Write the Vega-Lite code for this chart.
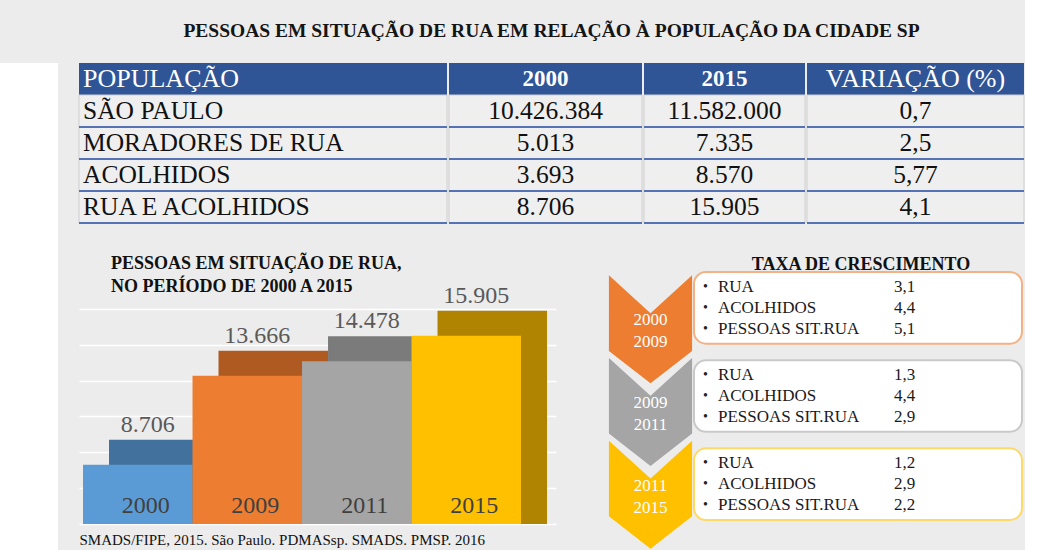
{
  "$schema": "https://vega.github.io/schema/vega-lite/v6.json",
  "background": "#ececec",
  "padding": {"left": 0, "top": 20, "right": 0, "bottom": 0},
  "config": {
    "font": "Liberation Serif",
    "view": {"stroke": null},
    "locale": {"number": {"decimal": ",", "thousands": ".", "grouping": [3], "currency": ["R$", ""]}}
  },
  "datasets": {
    "tabela": [
      {"linha": "POPULAÇÃO", "coluna": "POPULAÇÃO", "texto": "POPULAÇÃO"},
      {"linha": "POPULAÇÃO", "coluna": "2000", "texto": "2000"},
      {"linha": "POPULAÇÃO", "coluna": "2015", "texto": "2015"},
      {"linha": "POPULAÇÃO", "coluna": "VARIAÇÃO (%)", "texto": "VARIAÇÃO (%)"},
      {"linha": "SÃO PAULO", "coluna": "POPULAÇÃO", "texto": "SÃO PAULO"},
      {"linha": "SÃO PAULO", "coluna": "2000", "texto": "10.426.384"},
      {"linha": "SÃO PAULO", "coluna": "2015", "texto": "11.582.000"},
      {"linha": "SÃO PAULO", "coluna": "VARIAÇÃO (%)", "texto": "0,7"},
      {"linha": "MORADORES DE RUA", "coluna": "POPULAÇÃO", "texto": "MORADORES DE RUA"},
      {"linha": "MORADORES DE RUA", "coluna": "2000", "texto": "5.013"},
      {"linha": "MORADORES DE RUA", "coluna": "2015", "texto": "7.335"},
      {"linha": "MORADORES DE RUA", "coluna": "VARIAÇÃO (%)", "texto": "2,5"},
      {"linha": "ACOLHIDOS", "coluna": "POPULAÇÃO", "texto": "ACOLHIDOS"},
      {"linha": "ACOLHIDOS", "coluna": "2000", "texto": "3.693"},
      {"linha": "ACOLHIDOS", "coluna": "2015", "texto": "8.570"},
      {"linha": "ACOLHIDOS", "coluna": "VARIAÇÃO (%)", "texto": "5,77"},
      {"linha": "RUA E ACOLHIDOS", "coluna": "POPULAÇÃO", "texto": "RUA E ACOLHIDOS"},
      {"linha": "RUA E ACOLHIDOS", "coluna": "2000", "texto": "8.706"},
      {"linha": "RUA E ACOLHIDOS", "coluna": "2015", "texto": "15.905"},
      {"linha": "RUA E ACOLHIDOS", "coluna": "VARIAÇÃO (%)", "texto": "4,1"}
    ],
    "barras": [
      {"ano": "2000", "valor": 8706},
      {"ano": "2009", "valor": 13666},
      {"ano": "2011", "valor": 14478},
      {"ano": "2015", "valor": 15905}
    ],
    "periodos": [
      {"periodo": "2000-2009", "inicio": "2000", "fim": "2009"},
      {"periodo": "2009-2011", "inicio": "2009", "fim": "2011"},
      {"periodo": "2011-2015", "inicio": "2011", "fim": "2015"}
    ],
    "itens": [
      {"periodo": "2000-2009", "item": "RUA", "taxa": 3.1},
      {"periodo": "2000-2009", "item": "ACOLHIDOS", "taxa": 4.4},
      {"periodo": "2000-2009", "item": "PESSOAS SIT.RUA", "taxa": 5.1},
      {"periodo": "2009-2011", "item": "RUA", "taxa": 1.3},
      {"periodo": "2009-2011", "item": "ACOLHIDOS", "taxa": 4.4},
      {"periodo": "2009-2011", "item": "PESSOAS SIT.RUA", "taxa": 2.9},
      {"periodo": "2011-2015", "item": "RUA", "taxa": 1.2},
      {"periodo": "2011-2015", "item": "ACOLHIDOS", "taxa": 2.9},
      {"periodo": "2011-2015", "item": "PESSOAS SIT.RUA", "taxa": 2.2}
    ]
  },
  "spacing": 20,
  "hconcat": [
    {
      "width": 58,
      "height": 530,
      "view": {"fill": "white", "stroke": null},
      "data": {"values": []},
      "mark": "rect"
    },
    {
      "title": {"text": "PESSOAS EM SITUAÇÃO DE RUA EM RELAÇÃO À POPULAÇÃO DA CIDADE SP", "fontSize": 19.5, "fontWeight": "bold", "anchor": "middle", "offset": 22, "color": "#151515"},
      "spacing": 31,
      "vconcat": [
        {
          "spacing": 0,
          "hconcat": [
            {
              "width": 368, "height": 160,
              "data": {"name": "tabela"},
              "transform": [{"filter": "datum.coluna === 'POPULAÇÃO'"}],
              "encoding": {"y": {"field": "linha", "type": "nominal", "sort": null, "axis": null, "scale": {"domain": ["POPULAÇÃO", "SÃO PAULO", "MORADORES DE RUA", "ACOLHIDOS", "RUA E ACOLHIDOS"], "paddingInner": 0, "paddingOuter": 0}}},
              "layer": [
                {"transform": [{"filter": "datum.linha === 'POPULAÇÃO'"}], "mark": {"type": "rect", "color": "#2f5597", "height": {"band": 1}}},
                {"transform": [{"filter": "datum.linha !== 'POPULAÇÃO'"}], "mark": {"type": "rect", "fill": "#efefef", "stroke": "#cfcfcf", "strokeWidth": 1, "height": {"band": 1}}},
                {"transform": [{"filter": "datum.linha !== 'POPULAÇÃO'"}], "mark": {"type": "rule", "color": "#5472b4", "strokeWidth": 2}, "encoding": {"y": {"field": "linha", "type": "nominal", "sort": null, "bandPosition": 1}}},
                {"transform": [{"filter": "datum.linha === 'POPULAÇÃO'"}], "mark": {"type": "text", "color": "white", "fontSize": 26, "align": "left", "dx": -180}, "encoding": {"text": {"field": "texto"}}},
                {"transform": [{"filter": "datum.linha !== 'POPULAÇÃO'"}], "mark": {"type": "text", "color": "#111111", "fontSize": 25.5, "align": "left", "dx": -180}, "encoding": {"text": {"field": "texto"}}}
              ]
            },
            {
              "width": 193, "height": 160,
              "data": {"name": "tabela"},
              "transform": [{"filter": "datum.coluna === '2000'"}],
              "encoding": {"y": {"field": "linha", "type": "nominal", "sort": null, "axis": null, "scale": {"domain": ["POPULAÇÃO", "SÃO PAULO", "MORADORES DE RUA", "ACOLHIDOS", "RUA E ACOLHIDOS"], "paddingInner": 0, "paddingOuter": 0}}},
              "layer": [
                {"transform": [{"filter": "datum.linha === 'POPULAÇÃO'"}], "mark": {"type": "rect", "color": "#2f5597", "height": {"band": 1}}},
                {"transform": [{"filter": "datum.linha !== 'POPULAÇÃO'"}], "mark": {"type": "rect", "fill": "#efefef", "stroke": "#cfcfcf", "strokeWidth": 1, "height": {"band": 1}}},
                {"transform": [{"filter": "datum.linha !== 'POPULAÇÃO'"}], "mark": {"type": "rule", "color": "#5472b4", "strokeWidth": 2}, "encoding": {"y": {"field": "linha", "type": "nominal", "sort": null, "bandPosition": 1}}},
                {"transform": [{"filter": "datum.linha === 'POPULAÇÃO'"}], "mark": {"type": "text", "color": "white", "fontSize": 23, "fontWeight": "bold"}, "encoding": {"text": {"field": "texto"}}},
                {"transform": [{"filter": "datum.linha !== 'POPULAÇÃO'"}], "mark": {"type": "text", "color": "#111111", "fontSize": 25.5}, "encoding": {"text": {"field": "texto"}}}
              ]
            },
            {
              "width": 161, "height": 160,
              "data": {"name": "tabela"},
              "transform": [{"filter": "datum.coluna === '2015'"}],
              "encoding": {"y": {"field": "linha", "type": "nominal", "sort": null, "axis": null, "scale": {"domain": ["POPULAÇÃO", "SÃO PAULO", "MORADORES DE RUA", "ACOLHIDOS", "RUA E ACOLHIDOS"], "paddingInner": 0, "paddingOuter": 0}}},
              "layer": [
                {"transform": [{"filter": "datum.linha === 'POPULAÇÃO'"}], "mark": {"type": "rect", "color": "#2f5597", "height": {"band": 1}}},
                {"transform": [{"filter": "datum.linha !== 'POPULAÇÃO'"}], "mark": {"type": "rect", "fill": "#efefef", "stroke": "#cfcfcf", "strokeWidth": 1, "height": {"band": 1}}},
                {"transform": [{"filter": "datum.linha !== 'POPULAÇÃO'"}], "mark": {"type": "rule", "color": "#5472b4", "strokeWidth": 2}, "encoding": {"y": {"field": "linha", "type": "nominal", "sort": null, "bandPosition": 1}}},
                {"transform": [{"filter": "datum.linha === 'POPULAÇÃO'"}], "mark": {"type": "text", "color": "white", "fontSize": 23, "fontWeight": "bold"}, "encoding": {"text": {"field": "texto"}}},
                {"transform": [{"filter": "datum.linha !== 'POPULAÇÃO'"}], "mark": {"type": "text", "color": "#111111", "fontSize": 25.5}, "encoding": {"text": {"field": "texto"}}}
              ]
            },
            {
              "width": 217, "height": 160,
              "data": {"name": "tabela"},
              "transform": [{"filter": "datum.coluna === 'VARIAÇÃO (%)'"}],
              "encoding": {"y": {"field": "linha", "type": "nominal", "sort": null, "axis": null, "scale": {"domain": ["POPULAÇÃO", "SÃO PAULO", "MORADORES DE RUA", "ACOLHIDOS", "RUA E ACOLHIDOS"], "paddingInner": 0, "paddingOuter": 0}}},
              "layer": [
                {"transform": [{"filter": "datum.linha === 'POPULAÇÃO'"}], "mark": {"type": "rect", "color": "#2f5597", "height": {"band": 1}}},
                {"transform": [{"filter": "datum.linha !== 'POPULAÇÃO'"}], "mark": {"type": "rect", "fill": "#efefef", "stroke": "#cfcfcf", "strokeWidth": 1, "height": {"band": 1}}},
                {"transform": [{"filter": "datum.linha !== 'POPULAÇÃO'"}], "mark": {"type": "rule", "color": "#5472b4", "strokeWidth": 2}, "encoding": {"y": {"field": "linha", "type": "nominal", "sort": null, "bandPosition": 1}}},
                {"transform": [{"filter": "datum.linha === 'POPULAÇÃO'"}], "mark": {"type": "text", "color": "white", "fontSize": 26}, "encoding": {"text": {"field": "texto"}}},
                {"transform": [{"filter": "datum.linha !== 'POPULAÇÃO'"}], "mark": {"type": "text", "color": "#111111", "fontSize": 25.5}, "encoding": {"text": {"field": "texto"}}}
              ]
            }
          ]
        },
        {
          "spacing": 52,
          "hconcat": [
            {
              "width": 477, "height": 252,
              "title": {"text": ["PESSOAS EM SITUAÇÃO DE RUA,", "NO PERÍODO DE 2000 A 2015"], "anchor": "start", "dx": 32, "fontSize": 18, "fontWeight": "bold", "lineHeight": 23, "offset": -24, "color": "#111111"},
              "data": {"name": "barras"},
              "encoding": {
                "x": {"field": "ano", "type": "nominal", "sort": null,
                      "scale": {"paddingInner": 0, "paddingOuter": 0.178, "align": 0.103},
                      "axis": {"title": "SMADS/FIPE, 2015. São Paulo. PDMASsp. SMADS. PMSP. 2016", "titleAnchor": "start", "titleAlign": "left", "titleFontSize": 15, "titleFontWeight": "normal", "titleColor": "#111111", "titlePadding": 8, "labelFontSize": 24, "labelColor": "#404040", "labelPadding": -12, "labelBaseline": "alphabetic", "labelOffset": 8, "labelAngle": 0, "ticks": false, "tickSize": 0, "domain": false, "zindex": 1}},
                "y": {"field": "valor", "type": "quantitative",
                      "scale": {"domain": [4000, 18065], "zero": false, "nice": false},
                      "axis": {"title": null, "labels": false, "ticks": false, "domain": false, "grid": true, "gridColor": "#ffffff", "gridWidth": 1.5, "values": [4000, 6000, 8000, 10000, 12000, 14000, 16000]}}
              },
              "layer": [
                {"mark": {"type": "bar", "xOffset": 26, "x2Offset": 26, "clip": true},
                 "encoding": {"color": {"field": "ano", "type": "nominal", "scale": {"domain": ["2000", "2009", "2011", "2015"], "range": ["#41719c", "#ae5a21", "#7b7b7b", "#b08400"]}, "legend": null}}},
                {"mark": {"type": "bar", "yOffset": 25, "clip": true},
                 "encoding": {"fill": {"field": "ano", "type": "nominal", "scale": {"domain": ["2000", "2009", "2011", "2015"], "range": ["#5b9bd5", "#ed7d31", "#a5a5a5", "#ffc000"]}, "legend": null}}},
                {"mark": {"type": "text", "dy": -8, "dx": 10, "fontSize": 24, "color": "#595959", "baseline": "alphabetic"},
                 "encoding": {"text": {"field": "valor", "type": "quantitative", "format": ",d"}}}
              ],
              "resolve": {"scale": {"color": "independent", "fill": "independent"}}
            },
            {
              "title": {"text": "TAXA DE CRESCIMENTO", "fontSize": 18, "fontWeight": "bold", "anchor": "middle", "dx": 45, "offset": -3, "color": "#111111"},
              "spacing": 0,
              "hconcat": [
                {
                  "width": 83, "height": 248,
                  "data": {"name": "periodos"},
                  "encoding": {"y": {"field": "periodo", "type": "nominal", "sort": null, "axis": null, "scale": {"paddingInner": 0.1875, "paddingOuter": 0}}},
                  "layer": [
                    {"mark": {"type": "point", "shape": "M-0.77,-1L0,-0.3L0.77,-1L0.77,0.4L0,1L-0.77,0.4Z", "size": 11664, "filled": true, "opacity": 1, "strokeWidth": 0, "yOffset": 16},
                     "encoding": {"color": {"field": "periodo", "type": "nominal", "sort": null, "scale": {"range": ["#ed7d31", "#a5a5a5", "#ffc000"]}, "legend": null}}},
                    {"mark": {"type": "text", "color": "white", "fontSize": 17, "yOffset": 7}, "encoding": {"text": {"field": "inicio"}}},
                    {"mark": {"type": "text", "color": "white", "fontSize": 17, "yOffset": 29}, "encoding": {"text": {"field": "fim"}}}
                  ]
                },
                {
                  "width": 328, "height": 248,
                  "encoding": {"y": {"field": "periodo", "type": "nominal", "sort": null, "axis": null, "scale": {"domain": ["2000-2009", "2009-2011", "2011-2015"], "paddingInner": 0.1875, "paddingOuter": 0}}},
                  "layer": [
                    {"data": {"name": "periodos"},
                     "mark": {"type": "rect", "fill": "white", "strokeWidth": 2, "cornerRadius": 12, "height": {"band": 1}},
                     "encoding": {"stroke": {"field": "periodo", "type": "nominal", "sort": null, "scale": {"range": ["#f4b183", "#c9c9c9", "#ffd966"]}, "legend": null}}},
                    {"data": {"name": "periodos"},
                     "mark": {"type": "text", "text": ["•", "•", "•"], "lineHeight": 21, "fontSize": 14, "align": "left", "dx": -155, "yOffset": -21, "color": "#222222"}},
                    {"data": {"name": "itens"}, "transform": [{"filter": "datum.item === 'RUA'"}],
                     "mark": {"type": "text", "fontSize": 17, "align": "left", "dx": -140, "yOffset": -21, "color": "#1a1a1a"},
                     "encoding": {"text": {"field": "item"}}},
                    {"data": {"name": "itens"}, "transform": [{"filter": "datum.item === 'ACOLHIDOS'"}],
                     "mark": {"type": "text", "fontSize": 17, "align": "left", "dx": -140, "yOffset": 0, "color": "#1a1a1a"},
                     "encoding": {"text": {"field": "item"}}},
                    {"data": {"name": "itens"}, "transform": [{"filter": "datum.item === 'PESSOAS SIT.RUA'"}],
                     "mark": {"type": "text", "fontSize": 17, "align": "left", "dx": -140, "yOffset": 21, "color": "#1a1a1a"},
                     "encoding": {"text": {"field": "item"}}},
                    {"data": {"name": "itens"}, "transform": [{"filter": "datum.item === 'RUA'"}],
                     "mark": {"type": "text", "fontSize": 17, "align": "left", "dx": 36, "yOffset": -21, "color": "#1a1a1a"},
                     "encoding": {"text": {"field": "taxa", "type": "quantitative", "format": ".1f"}}},
                    {"data": {"name": "itens"}, "transform": [{"filter": "datum.item === 'ACOLHIDOS'"}],
                     "mark": {"type": "text", "fontSize": 17, "align": "left", "dx": 36, "yOffset": 0, "color": "#1a1a1a"},
                     "encoding": {"text": {"field": "taxa", "type": "quantitative", "format": ".1f"}}},
                    {"data": {"name": "itens"}, "transform": [{"filter": "datum.item === 'PESSOAS SIT.RUA'"}],
                     "mark": {"type": "text", "fontSize": 17, "align": "left", "dx": 36, "yOffset": 21, "color": "#1a1a1a"},
                     "encoding": {"text": {"field": "taxa", "type": "quantitative", "format": ".1f"}}}
                  ]
                }
              ]
            }
          ]
        }
      ]
    }
  ]
}
